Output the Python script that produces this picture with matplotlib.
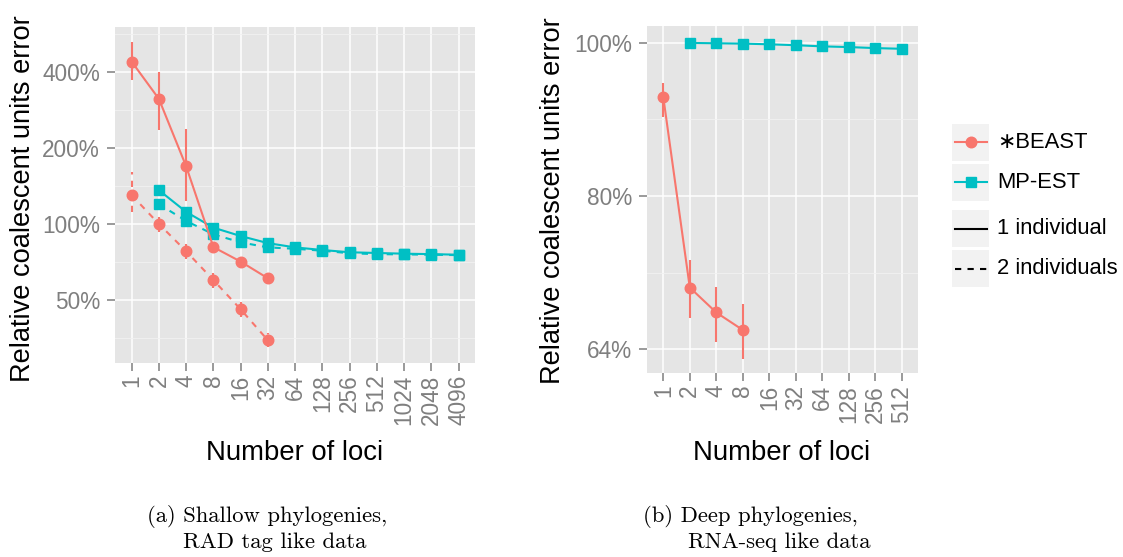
import numpy as np
import matplotlib.pyplot as plt
from matplotlib.patches import Rectangle
from matplotlib.lines import Line2D
from matplotlib.ticker import FixedLocator, NullFormatter, NullLocator

W, H = 1123, 557
plt.rcParams['font.family'] = ['Liberation Sans', 'DejaVu Sans']

RED = '#F8766D'
CYAN = '#00BFC4'
LW = 1.5

# (a) shallow phylogenies, RAD tag like data  (values in %)
loci_a = [1, 2, 4, 8, 16, 32, 64, 128, 256, 512, 1024, 2048, 4096]
beast_loci_a = [1, 2, 4, 8, 16, 32]
beast1_a = [438, 312, 169, 81, 71, 61]
beast1_lo_a = [369, 236, 123, 78, 68.5, 59]
beast1_hi_a = [522, 400, 238, 84, 73.5, 63]
beast2_a = [130, 100, 78, 60, 46, 34.7]
beast2_lo_a = [111, 93, 73, 56, 43, 32.5]
beast2_hi_a = [160, 107, 83, 64, 49, 37]
mpest_loci_a = [2, 4, 8, 16, 32, 64, 128, 256, 512, 1024, 2048, 4096]
mpest1_a = [136, 111.6, 96.7, 89.6, 84, 80.8, 78.9, 77.3, 76.8, 76.3, 76, 75.6]
mpest2_a = [119.7, 102.8, 91, 84.6, 80.8, 79.8, 78.4, 76.6, 76, 75.8, 75.6, 75.3]
yticks_a = [50, 100, 200, 400]
yminor_a = [35.36, 70.71, 141.4, 282.8, 565.7]

# (b) deep phylogenies, RNA-seq like data
loci_b = [1, 2, 4, 8, 16, 32, 64, 128, 256, 512]
beast_loci_b = [1, 2, 4, 8]
beast1_b = [92.4, 70.0, 67.5, 65.8]
beast1_lo_b = [89.8, 67.0, 64.7, 63.1]
beast1_hi_b = [94.3, 72.9, 70.1, 68.3]
mpest_loci_b = [2, 4, 8, 16, 32, 64, 128, 256, 512]
mpest1_b = [100, 99.95, 99.9, 99.8, 99.67, 99.5, 99.4, 99.25, 99.15]
yticks_b = [64, 80, 100]
yminor_b = [71.55, 89.44]


def fx(x):
    return x / W


def fy(y):
    return 1 - y / H


def style(ax, loci, yticks, yminor, ylim):
    ax.set_facecolor('#E5E5E5')
    for s in ax.spines.values():
        s.set_visible(False)
    ax.set_xscale('log', base=2)
    ax.set_yscale('log', base=2)
    ax.set_xlim(2 ** -0.6, loci[-1] * 2 ** 0.6)
    ax.set_ylim(*ylim)
    ax.set_xticks(loci)
    ax.set_xticklabels([str(v) for v in loci], rotation=90)
    ax.xaxis.set_minor_locator(NullLocator())
    ax.set_yticks(yticks)
    ax.set_yticklabels([f'{v}%' for v in yticks])
    ax.yaxis.set_minor_locator(FixedLocator(yminor))
    ax.yaxis.set_minor_formatter(NullFormatter())
    ax.grid(which='major', color='white', lw=1.1)
    ax.grid(which='minor', axis='y', color='#F2F2F2', lw=0.6)
    ax.set_axisbelow(True)
    ax.tick_params(which='major', length=6, width=1.1, color='#7F7F7F',
                   labelcolor='#7F7F7F', labelsize=16.3)
    ax.tick_params(axis='y', pad=5)
    ax.tick_params(axis='x', pad=2.5)
    ax.tick_params(which='minor', length=0)


fig = plt.figure(figsize=(W / 100, H / 100), dpi=100)

# panel (a)
ax1 = fig.add_axes([fx(115.3), fy(362.7), (475 - 115.3) / W, (362.7 - 26.7) / H])
style(ax1, loci_a, yticks_a, yminor_a, (28.3, 601.9))
ax1.vlines(beast_loci_a, beast1_lo_a, beast1_hi_a, color=RED, lw=LW)
ax1.vlines(beast_loci_a, beast2_lo_a, beast2_hi_a, color=RED, lw=LW, linestyles=(0, (3, 3)))
ax1.plot(mpest_loci_a, mpest2_a, color=CYAN, lw=LW, ls=(0, (3, 3)), marker='s', ms=6.8)
ax1.plot(mpest_loci_a, mpest1_a, color=CYAN, lw=LW, marker='s', ms=6.8)
ax1.plot(beast_loci_a, beast2_a, color=RED, lw=LW, ls=(0, (3, 3)), marker='o', ms=7.6)
ax1.plot(beast_loci_a, beast1_a, color=RED, lw=LW, marker='o', ms=7.6)

# panel (b)
ax2 = fig.add_axes([fx(647.4), fy(373), (917.6 - 647.4) / W, (373 - 26) / H])
style(ax2, loci_b, yticks_b, yminor_b, (61.8, 102.5))
ax2.vlines(beast_loci_b, beast1_lo_b, beast1_hi_b, color=RED, lw=LW)
ax2.plot(mpest_loci_b, mpest1_b, color=CYAN, lw=LW, marker='s', ms=6.8)
ax2.plot(beast_loci_b, beast1_b, color=RED, lw=LW, marker='o', ms=7.6)

# axis titles
for xc, yc in [(23, 198.5), (553, 201)]:
    fig.text(fx(xc), fy(yc), 'Relative coalescent units error', rotation=90,
             ha='center', va='center', fontsize=19.6)
for xc in [295, 782]:
    fig.text(fx(xc), fy(460), 'Number of loci', ha='center', va='baseline', fontsize=19.8)

# legend
rows = [(124, 160.7), (164, 200.7), (210, 247.3), (250, 287.3)]
entries = [('\u2217BEAST', RED, '-', 'o'), ('MP-EST', CYAN, '-', 's'),
           ('1 individual', 'black', '-', None), ('2 individuals', 'black', (0, (3, 3)), None)]
for (top, bot), (lab, col, ls, mk) in zip(rows, entries):
    fig.patches.append(Rectangle((fx(952), fy(bot)), 37 / W, (bot - top) / H,
                                 transform=fig.transFigure, facecolor='#F2F2F2',
                                 edgecolor='none'))
    yc = fy((top + bot) / 2)
    fig.lines.append(Line2D([fx(954.5), fx(986.5)], [yc, yc], transform=fig.transFigure,
                            color=col, lw=LW, ls=ls))
    if mk:
        fig.lines.append(Line2D([fx(970.5)], [yc], transform=fig.transFigure, color=col,
                                marker=mk, ms=7.6 if mk == 'o' else 6.8, ls='none'))
    fig.text(fx(997), yc, lab, ha='left', va='center', fontsize=15.8)

# captions
cap = dict(fontfamily='cmr10', fontsize=16.3, va='baseline', ha='left')
fig.text(fx(147), fy(521.7), '(a) Shallow phylogenies,', **cap)
fig.text(fx(182.7), fy(548), 'RAD tag like data', **cap)
fig.text(fx(643.3), fy(521.7), '(b) Deep phylogenies,', **cap)
fig.text(fx(688.3), fy(548), 'RNA-seq like data', **cap)

fig.savefig('out.png', dpi=100)
